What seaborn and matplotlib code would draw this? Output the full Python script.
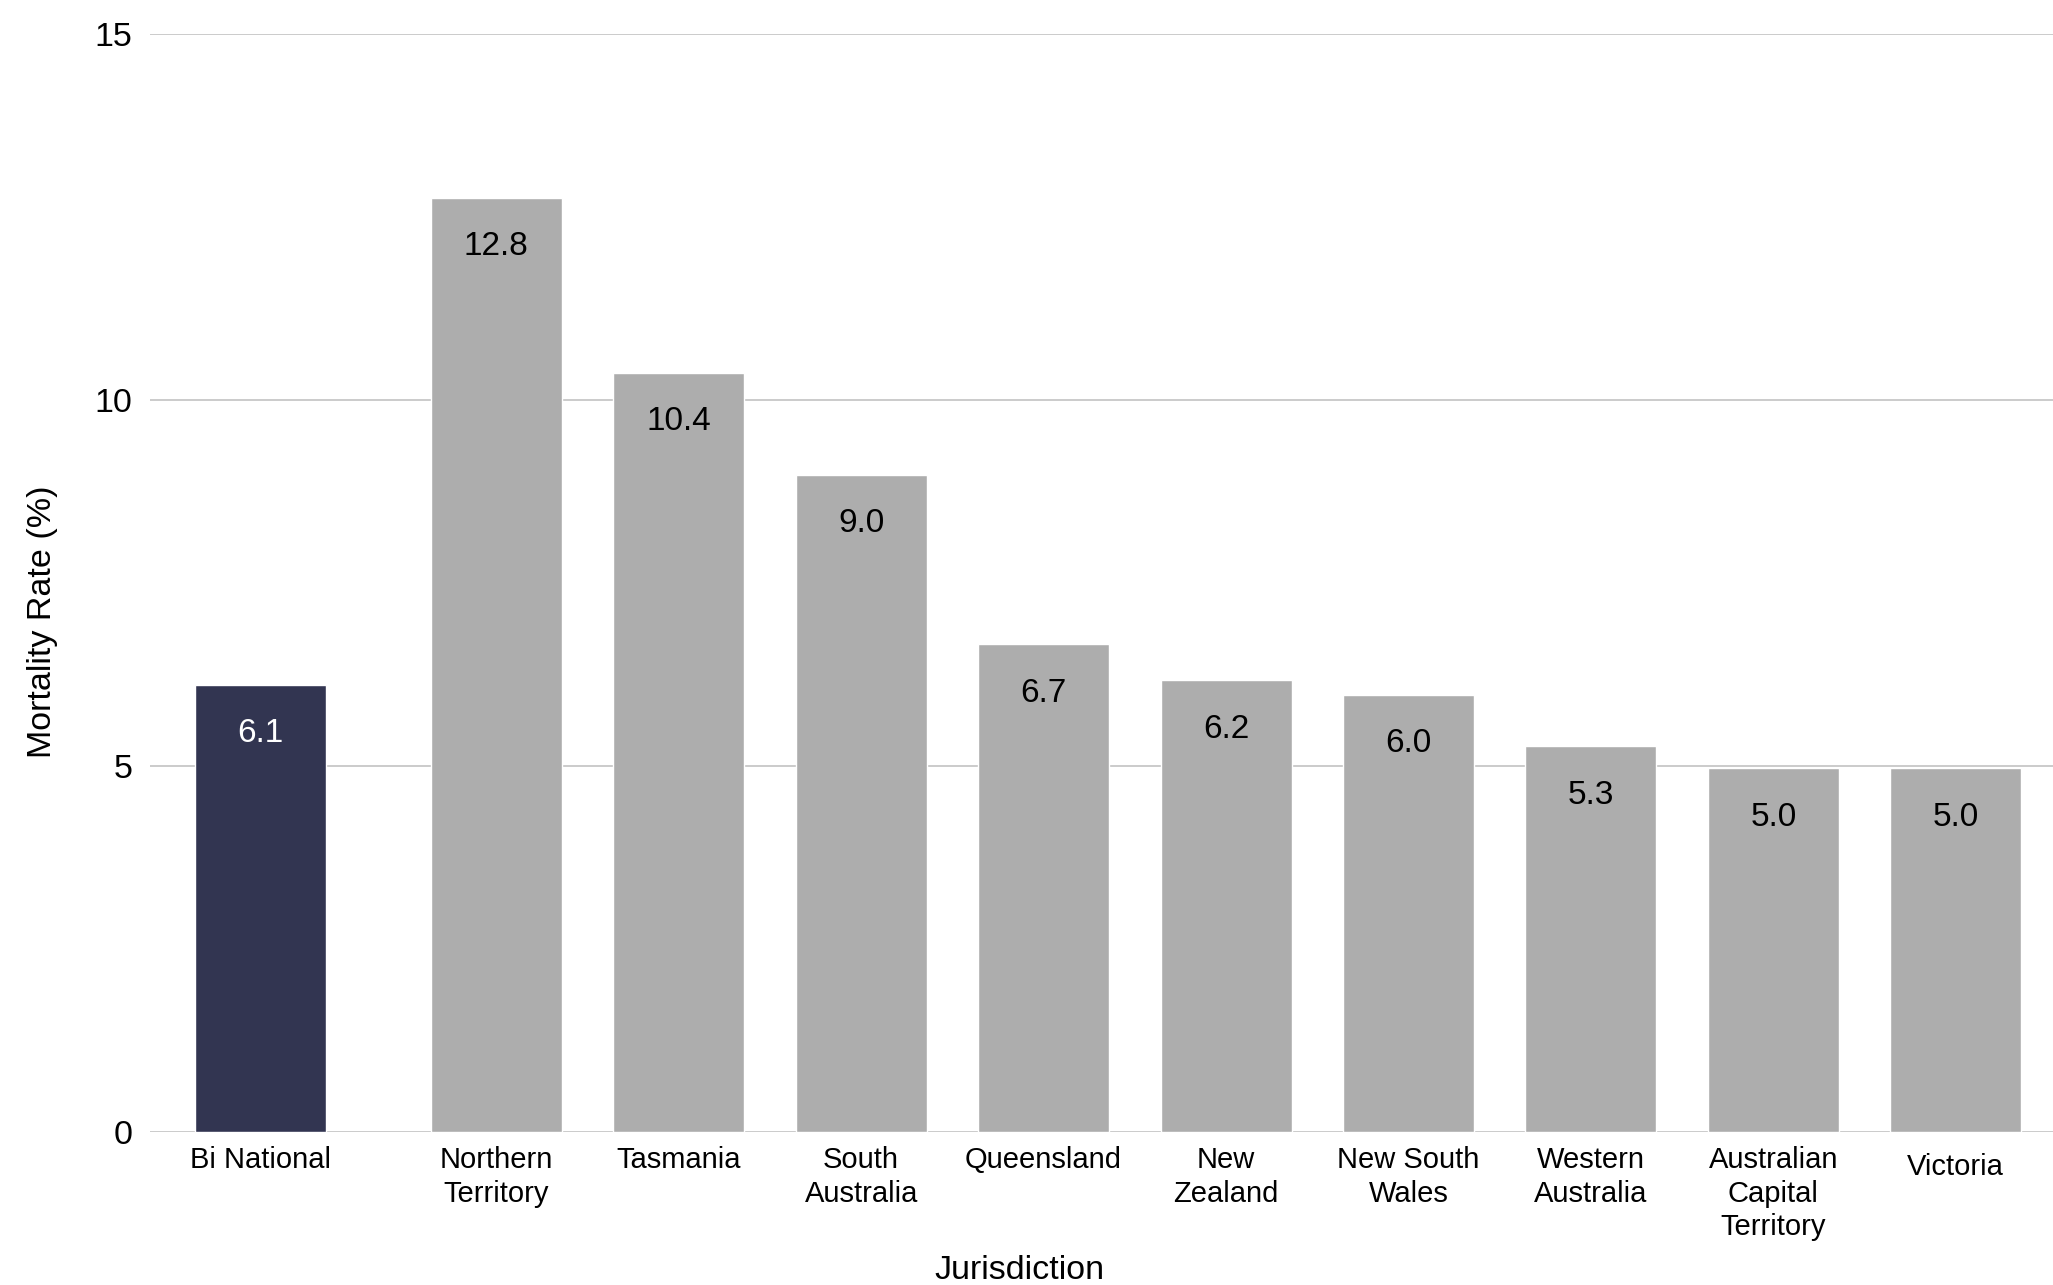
import numpy as np
import pandas as pd
import matplotlib
matplotlib.use("Agg")
import matplotlib.pyplot as plt
import seaborn as sns

# ---- data ----
jurisdictions = ["Bi National", "Northern\nTerritory", "Tasmania", "South\nAustralia",
                 "Queensland", "New\nZealand", "New South\nWales", "Western\nAustralia",
                 "Australian\nCapital\nTerritory", "Victoria"]
mortality_rate = [6.11, 12.76, 10.37, 8.98, 6.66, 6.17, 5.97, 5.27, 4.97, 4.97]
y_ticks = [0, 5, 10, 15]

# ---- style ----
sns.set_style("white")
plt.rcParams["font.family"] = ["Liberation Sans", "DejaVu Sans"]

NAVY = "#323551"
GRAY = "#adadad"
colors = {name: (NAVY if i == 0 else GRAY) for i, name in enumerate(jurisdictions)}

# layout: national bar separated from jurisdictions by a wider gap
gap = 1.295
positions = [0.0] + [gap + k for k in range(len(jurisdictions) - 1)]

df = pd.DataFrame({"pos": positions, "rate": mortality_rate, "name": jurisdictions})

fig = plt.figure(figsize=(20.53, 12.85), dpi=100)
ax = fig.add_axes([0.0731, 0.1191, 1.0 - 0.0731, 0.9735 - 0.1191])

sns.barplot(data=df, x="pos", y="rate", hue="name", hue_order=jurisdictions,
            palette=colors, native_scale=True, width=0.718, saturation=1,
            legend=False, ax=ax)

# value labels inside top of bars
for i, cont in enumerate(ax.containers):
    for bar in cont:
        h = bar.get_height()
        ax.annotate(f"{h:.1f}", (bar.get_x() + bar.get_width() / 2, h),
                    xytext=(0, -24), textcoords="offset points",
                    ha="center", va="top", fontsize=24,
                    color="white" if i == 0 else "black")

ax.set_xlim(-0.603, 9.828)
ax.set_ylim(0, 15)
ax.set_yticks(y_ticks)
ax.set_yticklabels([str(t) for t in y_ticks])
ax.set_xticks(positions)
ax.set_xticklabels(jurisdictions, fontsize=21, linespacing=1.27)
ax.tick_params(axis="x", length=0, pad=9.8, colors="black")
ax.tick_params(axis="y", length=0, pad=12.7, labelsize=24.5, colors="black")

# single-line "Victoria" label sits slightly lower in the reference
for lab in ax.get_xticklabels():
    if lab.get_text() == "Victoria":
        lab.set_y(-0.0064)

ax.yaxis.grid(True, color="#c2c2c2", linewidth=1.2)
ax.xaxis.grid(False)
ax.set_axisbelow(True)
for s in ax.spines.values():
    s.set_visible(False)

ax.set_xlabel("Jurisdiction", fontsize=24.5, color="black")
ax.set_ylabel("Mortality Rate (%)", fontsize=24.5, color="black")
ax.xaxis.set_label_coords(0.457, -0.112)
ax.yaxis.set_label_coords(-0.0483, 0.4645)

fig.savefig("out.png", dpi=100, facecolor="white")
